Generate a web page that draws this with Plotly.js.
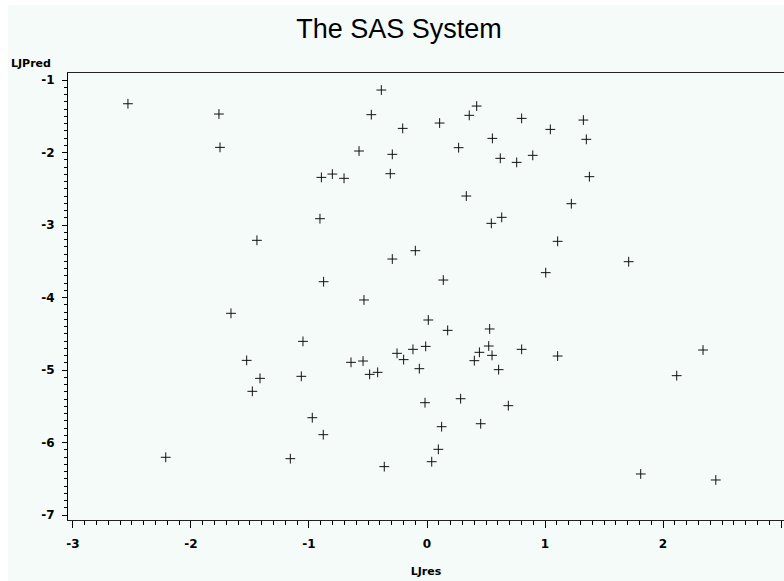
<!DOCTYPE html>
<html>
<head>
<meta charset="utf-8">
<script src="https://cdn.plot.ly/plotly-3.0.1.min.js"></script>
<style>html,body{margin:0;padding:0;background:#ffffff;}#chart{width:784px;height:581px;}</style>
</head>
<body>
<div id="chart"></div>
<script>
// LJres (x) values
const ljres = [
  -2.534, -1.763, -1.754, -2.214, -0.387, -0.472, 0.421, 0.358, -0.206, 0.107,
  -0.576, -0.294, 0.268, -0.895, -0.802, -0.703, -0.311, 0.333, -0.907, -1.441,
  -0.294, -0.099, -0.876, 0.138, -0.534, -1.661, 0.011, 0.175, 0.802, 1.325,
  1.045, 0.554, 1.350, 0.621, 0.760, 0.896, 1.376, 1.223, 0.545, 0.633,
  1.107, 1.709, 1.006, 0.531, -1.051, -1.528, -1.415, -1.480, -1.065, -0.644,
  -0.542, -0.486, -0.418, -0.254, -0.198, -0.119, -0.011, -0.065, 0.401, 0.444,
  -0.017, 0.285, -0.972, -0.879, 0.124, 0.096, 0.040, -0.362, -1.158, 0.523,
  0.551, 0.802, 1.107, 0.607, 0.689, 0.455, 2.339, 2.116, 1.811, 2.447
];
// LJPred (y) values
const ljpred = [
  -1.327, -1.469, -1.929, -6.204, -1.138, -1.478, -1.359, -1.487, -1.667, -1.593,
  -1.979, -2.025, -1.933, -2.343, -2.297, -2.356, -2.292, -2.600, -2.913, -3.211,
  -3.469, -3.354, -3.782, -3.759, -4.034, -4.218, -4.310, -4.453, -1.529, -1.552,
  -1.681, -1.805, -1.818, -2.080, -2.136, -2.039, -2.333, -2.706, -2.977, -2.894,
  -3.225, -3.506, -3.657, -4.434, -4.605, -4.867, -5.115, -5.294, -5.087, -4.894,
  -4.876, -5.060, -5.032, -4.770, -4.857, -4.715, -4.674, -4.982, -4.871, -4.756,
  -5.451, -5.396, -5.658, -5.892, -5.782, -6.094, -6.265, -6.333, -6.223, -4.669,
  -4.798, -4.715, -4.807, -4.995, -5.492, -5.741, -4.724, -5.078, -6.434, -6.517
];
const xTicks = [-3, -2, -1, 0, 1, 2, 3];
const yTicks = [-1, -2, -3, -4, -5, -6, -7];
const chartTitle = "The SAS System";
const xLabel = "LJres";
const yLabel = "LJPred";

const bg = "#f5fbf8";
const tickFont = {family: "DejaVu Sans", size: 12, color: "#000", weight: "bold"};
const labelFont = {family: "DejaVu Sans", size: 11, color: "#000", weight: "bold"};

const trace = {
  type: "scatter",
  mode: "markers",
  x: ljres,
  y: ljpred,
  marker: {symbol: "cross-thin", size: 7, color: "#000", line: {color: "#111", width: 1}},
  hoverinfo: "x+y"
};

const layout = {
  width: 784,
  height: 581,
  paper_bgcolor: bg,
  plot_bgcolor: bg,
  margin: {l: 68, r: 0, t: 73, b: 61, pad: 0},
  showlegend: false,
  title: {
    text: chartTitle,
    font: {family: "Liberation Sans", size: 27, color: "#000"},
    xref: "container", x: 399 / 784, xanchor: "center",
    yref: "container", y: 1 - 29 / 581, yanchor: "middle"
  },
  xaxis: {
    range: [-3.042, 3.025],
    tickmode: "array",
    tickvals: xTicks,
    ticktext: xTicks.map(String),
    ticks: "outside", ticklen: 7, tickwidth: 1, tickcolor: "#000",
    minor: {dtick: 0.1, tick0: 0, ticks: "outside", ticklen: 4, tickwidth: 1, tickcolor: "#000", showgrid: false},
    showline: true, linecolor: "#222", linewidth: 1, mirror: true,
    showgrid: false, zeroline: false,
    tickfont: tickFont,
    ticklabelstandoff: 6,
    title: {text: xLabel, font: labelFont, standoff: 16}
  },
  yaxis: {
    range: [-7.069, -0.903],
    tickmode: "array",
    tickvals: yTicks,
    ticktext: yTicks.map(String),
    ticks: "outside", ticklen: 5, tickwidth: 1, tickcolor: "#000",
    minor: {dtick: 0.1, tick0: 0, ticks: "outside", ticklen: 3, tickwidth: 1, tickcolor: "#000", showgrid: false},
    showline: true, linecolor: "#000", linewidth: 1,
    showgrid: false, zeroline: false,
    tickfont: tickFont,
    ticklabelstandoff: 5
  },
  annotations: [{
    text: yLabel, font: labelFont, showarrow: false,
    xref: "paper", yref: "paper",
    x: (9 - 68) / 716, xanchor: "left",
    y: (520 - 64) / 447, yanchor: "middle"
  }],
  shapes: [
    {type: "rect", xref: "paper", yref: "paper", x0: -68 / 716, x1: (8 - 68) / 716, y0: -61 / 447, y1: 520 / 447 + 0.01, fillcolor: "#ffffff", line: {width: 0}, layer: "below"},
    {type: "rect", xref: "paper", yref: "paper", x0: -68 / 716, x1: 716 / 716 + 0.01, y0: (520 - 5) / 447, y1: 520 / 447 + 0.01, fillcolor: "#ffffff", line: {width: 0}, layer: "below"}
  ]
};

Plotly.newPlot("chart", [trace], layout, {displayModeBar: false, staticPlot: true});
</script>
</body>
</html>
